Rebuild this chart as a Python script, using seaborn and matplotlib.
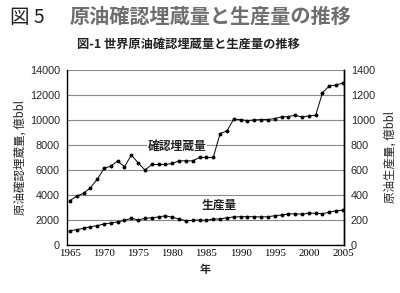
import matplotlib
matplotlib.use("Agg")
import matplotlib.pyplot as plt
import seaborn as sns
import pandas as pd
from matplotlib.ticker import MultipleLocator

years = list(range(1965, 2006))
reserves = [3520, 3900, 4110, 4560, 5230, 6110, 6300, 6700, 6240, 7180,
            6560, 5980, 6430, 6430, 6430, 6510, 6720, 6720, 6720, 6990,
            6990, 6990, 8910, 9120, 10060, 10030, 9950, 10000, 10030, 10030,
            10110, 10240, 10270, 10380, 10220, 10330, 10360, 12190, 12720, 12800,
            12960]
production = [112, 120, 131, 144, 152, 166, 174, 182, 195, 211,
              198, 211, 216, 222, 232, 219, 206, 192, 195, 198,
              195, 206, 206, 216, 222, 224, 224, 224, 222, 224,
              232, 238, 246, 248, 243, 254, 251, 248, 260, 272,
              275]

left_ticks = [0, 2000, 4000, 6000, 8000, 10000, 12000, 14000]
right_ticks = [0, 200, 400, 600, 800, 1000, 1200, 1400]
x_ticks = [1965, 1970, 1975, 1980, 1985, 1990, 1995, 2000, 2005]

df = pd.DataFrame({"year": years, "reserves": reserves, "production": production})

sns.set_style("white")
plt.rcParams["font.family"] = ["Noto Sans CJK JP", "DejaVu Sans"]

fig = plt.figure(figsize=(4.0, 2.93), dpi=100)
ax = fig.add_axes([0.167, 0.165, 0.693, 0.596])

cjk = ["Noto Sans CJK JP", "DejaVu Sans"]

sns.lineplot(data=df, x="year", y="reserves", ax=ax, color="black", lw=0.7,
             marker="o", markersize=2.8, markeredgewidth=0, zorder=3)
ax.set_xlim(1964.55, 2005.15)
ax.set_ylim(0, 14000)
ax.set_yticks(left_ticks)
ax.set_yticklabels([str(v) for v in left_ticks], family="Liberation Sans", fontsize=7.8)
ax.yaxis.grid(True, color="#8a8a8a", lw=0.8)
ax.set_axisbelow(True)
ax.set_xticks(x_ticks)
ax.set_xticklabels([str(v) for v in x_ticks], family="Liberation Serif", fontsize=7.8)
ax.xaxis.set_minor_locator(MultipleLocator(1))
ax.tick_params(axis="x", which="major", direction="in", length=5, width=0.8, pad=3, colors="black")
ax.tick_params(axis="x", which="minor", direction="in", length=2.5, width=0.6, colors="black")
ax.tick_params(axis="y", length=0, pad=5)
ax.set_xlabel("年", family=cjk, fontsize=8, fontweight="bold", labelpad=4)
ax.set_ylabel("原油確認埋蔵量, 億bbl", family=cjk, fontsize=8.3, labelpad=2)
for s in ["left", "bottom", "right"]:
    ax.spines[s].set_visible(True)
    ax.spines[s].set_color("black")
    ax.spines[s].set_linewidth(1.0)
ax.spines["top"].set_visible(False)

ax2 = ax.twinx()
sns.lineplot(data=df, x="year", y="production", ax=ax2, color="black", lw=0.7,
             marker="o", markersize=2.8, markeredgewidth=0, zorder=3)
ax2.set_ylim(0, 1400)
ax2.set_yticks(right_ticks)
ax2.set_yticklabels([str(v) for v in right_ticks], family="Liberation Sans", fontsize=7.8)
ax2.tick_params(axis="y", length=0, pad=5)
ax2.set_ylabel("原油生産量, 億bbl", family=cjk, fontsize=8.3, labelpad=6, rotation=90)
ax2.yaxis.set_label_position("right")
for s in ["top", "left", "bottom"]:
    ax2.spines[s].set_visible(False)
ax2.spines["right"].set_color("black")
ax2.spines["right"].set_linewidth(1.0)
ax2.set_xlim(1964.55, 2005.15)
ax2.set_xlabel("")

ax.text(1980.7, 7900, "確認埋蔵量", family=cjk, fontsize=8.5, fontweight="bold",
        ha="center", va="center", color="#222222",
        bbox=dict(facecolor="white", edgecolor="none", pad=0.5), zorder=5)
ax.text(1986.9, 3120, "生産量", family=cjk, fontsize=8.5, fontweight="bold",
        ha="center", va="center", color="#222222",
        bbox=dict(facecolor="white", edgecolor="none", pad=0.5), zorder=5)

fig.text(0.025, 0.94, "図 5", family=cjk, fontsize=14, ha="left", va="center", color="#222222")
fig.text(0.175, 0.945, "原油確認埋蔵量と生産量の推移", family=cjk, fontsize=14.5,
         fontweight="bold", ha="left", va="center", color="#6e6e6e")
fig.text(0.192, 0.85, "図-1 世界原油確認埋蔵量と生産量の推移", family=cjk, fontsize=8.8,
         fontweight="bold", ha="left", va="center", color="#222222")

fig.savefig("out.png", dpi=100, facecolor="white")
